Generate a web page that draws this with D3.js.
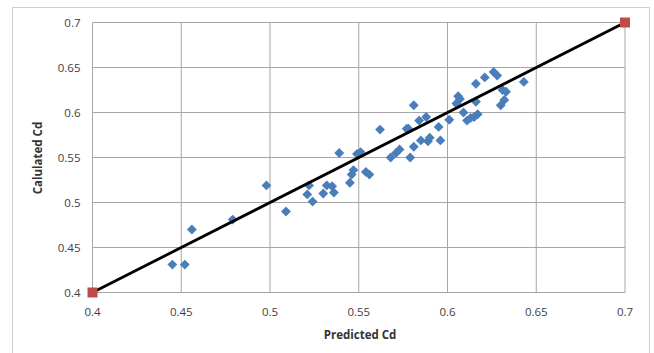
<!DOCTYPE html>
<html>
<head>
<meta charset="utf-8">
<script src="https://cdn.jsdelivr.net/npm/d3@7"></script>
<style>
  body { margin: 0; background: #fff; }
  text { font-family: "Open Sans", sans-serif; }
</style>
</head>
<body>
<svg id="chart"></svg>
<script>
// predicted vs calculated Cd
const predicted = [
  0.498, 0.479, 0.456, 0.445, 0.452, 0.509, 0.522, 0.521, 0.524, 0.530,
  0.532, 0.535, 0.536, 0.539, 0.545, 0.546, 0.547, 0.549, 0.551, 0.554,
  0.556, 0.562, 0.568, 0.571, 0.573, 0.577, 0.579, 0.581, 0.578, 0.581,
  0.584, 0.588, 0.585, 0.589, 0.590, 0.595, 0.596, 0.601, 0.606, 0.605,
  0.607, 0.609, 0.611, 0.613, 0.615, 0.617, 0.616, 0.616, 0.621, 0.626,
  0.628, 0.631, 0.633, 0.632, 0.630, 0.643
];
const calculated = [
  0.519, 0.481, 0.470, 0.431, 0.431, 0.490, 0.519, 0.509, 0.501, 0.510,
  0.519, 0.518, 0.511, 0.555, 0.522, 0.531, 0.536, 0.554, 0.556, 0.534,
  0.531, 0.581, 0.550, 0.555, 0.559, 0.582, 0.550, 0.562, 0.582, 0.608,
  0.591, 0.595, 0.569, 0.568, 0.572, 0.584, 0.569, 0.592, 0.618, 0.610,
  0.615, 0.600, 0.591, 0.594, 0.595, 0.598, 0.612, 0.632, 0.639, 0.645,
  0.641, 0.625, 0.623, 0.614, 0.608, 0.634
];
const lineX = [0.4, 0.7];
const lineY = [0.4, 0.7];
const ticks = [0.4, 0.45, 0.5, 0.55, 0.6, 0.65, 0.7];

const WIDTH = 654;
const HEIGHT = 353;
const M = { left: 92.5, right: 29, top: 22.5, bottom: 60.5 };

const svg = d3.select("#chart")
    .attr("width", WIDTH)
    .attr("height", HEIGHT);

// outer chart frame
svg.append("rect")
    .attr("x", 12.5).attr("y", 7.5)
    .attr("width", 637).attr("height", 350)
    .attr("fill", "#fff")
    .attr("stroke", "#d0d0d0");

const x = d3.scaleLinear().domain([0.4, 0.7]).range([M.left, WIDTH - M.right]);
const y = d3.scaleLinear().domain([0.4, 0.7]).range([HEIGHT - M.bottom, M.top]);

// gridlines
svg.append("g")
    .selectAll("line.v")
    .data(ticks)
    .enter().append("line")
    .attr("x1", d => x(d)).attr("x2", d => x(d))
    .attr("y1", y(0.4)).attr("y2", y(0.7))
    .attr("stroke", "#a6a6a6");

svg.append("g")
    .selectAll("line.h")
    .data(ticks)
    .enter().append("line")
    .attr("x1", x(0.4)).attr("x2", x(0.7))
    .attr("y1", d => y(d)).attr("y2", d => y(d))
    .attr("stroke", "#a6a6a6");

// tick labels
svg.append("g")
    .selectAll("text")
    .data(ticks)
    .enter().append("text")
    .attr("x", d => x(d))
    .attr("y", y(0.4) + 23)
    .attr("text-anchor", "middle")
    .style("font-size", "11.5px")
    .style("fill", "#404040")
    .text(d => d3.format("")(d));

svg.append("g")
    .selectAll("text")
    .data(ticks)
    .enter().append("text")
    .attr("x", x(0.4) - 12)
    .attr("y", d => y(d) + 4)
    .attr("text-anchor", "end")
    .style("font-size", "11.5px")
    .style("fill", "#404040")
    .text(d => d3.format("")(d));

// points
const diamond = d3.symbol().type(d3.symbolDiamond2).size(62);
svg.append("g")
    .selectAll("path")
    .data(predicted.map((p, i) => [p, calculated[i]]))
    .enter().append("path")
    .attr("d", diamond)
    .attr("transform", d => "translate(" + x(d[0]) + "," + y(d[1]) + ")")
    .attr("fill", "#4a7ebb");

// 1:1 line
const line = d3.line().x(d => x(d[0])).y(d => y(d[1]));
svg.append("path")
    .datum(lineX.map((v, i) => [v, lineY[i]]))
    .attr("d", line)
    .attr("fill", "none")
    .attr("stroke", "#000")
    .attr("stroke-width", 2.8);

svg.append("g")
    .selectAll("rect")
    .data(lineX.map((v, i) => [v, lineY[i]]))
    .enter().append("rect")
    .attr("x", d => x(d[0]) - 5)
    .attr("y", d => y(d[1]) - 5)
    .attr("width", 10).attr("height", 10)
    .attr("fill", "#be4b48");

// axis titles
svg.append("text")
    .attr("x", 360).attr("y", 339)
    .attr("text-anchor", "middle")
    .style("font-size", "11.5px")
    .style("font-weight", "bold")
    .style("fill", "#333")
    .text("Predicted Cd");

svg.append("text")
    .attr("transform", "translate(42,158) rotate(-90)")
    .attr("text-anchor", "middle")
    .style("font-size", "11.5px")
    .style("font-weight", "bold")
    .style("fill", "#333")
    .text("Calulated Cd");
</script>
</body>
</html>
